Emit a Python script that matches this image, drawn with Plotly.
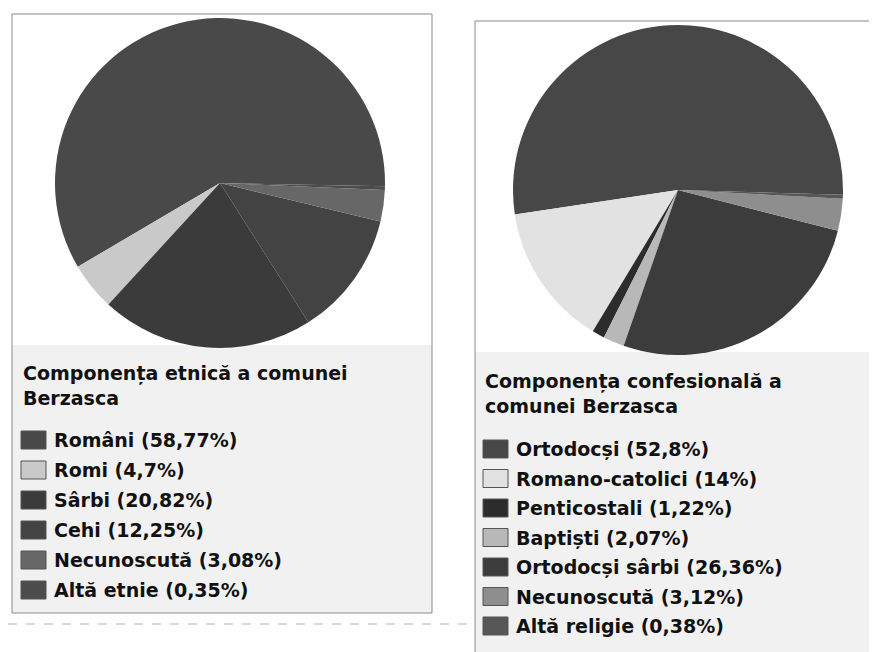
import plotly.graph_objects as go

# ---- data ----
etnie_labels = ["Români", "Romi", "Sârbi", "Cehi", "Necunoscută", "Altă etnie"]
etnie_values = [58.77, 4.7, 20.82, 12.25, 3.08, 0.35]
etnie_colors = ["#494949", "#c9c9c9", "#3b3b3b", "#434343", "#676767", "#4c4c4c"]
etnie_title = "Componența etnică a comunei<br>Berzasca"

relig_labels = ["Ortodocși", "Romano-catolici", "Penticostali", "Baptiști",
                "Ortodocși sârbi", "Necunoscută", "Altă religie"]
relig_values = [52.8, 14, 1.22, 2.07, 26.36, 3.12, 0.38]
relig_colors = ["#474747", "#e2e2e2", "#2c2c2c", "#b8b8b8", "#3c3c3c", "#8e8e8e", "#575757"]
relig_title = "Componența confesională a<br>comunei Berzasca"

# page body has an 8px margin: shrink the figure and shift coordinates
OFF = 8
W, H = 877 - OFF, 652 - OFF
FONT = "DejaVu Sans, Liberation Sans, Arial, sans-serif"
FS = 19


def px(x):
    return (x - OFF) / W


def py(y):
    return 1 - (y - OFF) / H


def fmt(v):
    return f"{v:g}".replace(".", ",")


fig = go.Figure()

R = 165
# left pie
cx, cy = 220, 183
fig.add_trace(go.Pie(
    labels=etnie_labels, values=etnie_values, sort=False,
    direction="counterclockwise", rotation=-120.5,
    marker=dict(colors=etnie_colors, line=dict(width=0)),
    textinfo="none", hoverinfo="label+percent", showlegend=False,
    domain=dict(x=[px(cx - R), px(cx + R)], y=[py(cy + R), py(cy - R)]),
))
# right pie
cx2, cy2 = 678, 190
fig.add_trace(go.Pie(
    labels=relig_labels, values=relig_values, sort=False,
    direction="counterclockwise", rotation=-98.5,
    marker=dict(colors=relig_colors, line=dict(width=0)),
    textinfo="none", hoverinfo="label+percent", showlegend=False,
    domain=dict(x=[px(cx2 - R), px(cx2 + R)], y=[py(cy2 + R), py(cy2 - R)]),
))

shapes = []
annotations = []

# boxes & legend backgrounds
shapes.append(dict(type="rect", xref="paper", yref="paper",
                   x0=px(12), x1=px(432), y0=py(613), y1=py(345),
                   fillcolor="#f1f1f1", line=dict(width=0), layer="below"))
shapes.append(dict(type="rect", xref="paper", yref="paper",
                   x0=px(12), x1=px(432), y0=py(613), y1=py(14),
                   fillcolor="rgba(0,0,0,0)", line=dict(color="#8a8a8a", width=1)))
shapes.append(dict(type="rect", xref="paper", yref="paper",
                   x0=px(475), x1=px(877), y0=py(652), y1=py(352),
                   fillcolor="#f1f1f1", line=dict(width=0), layer="below"))
shapes.append(dict(type="line", xref="paper", yref="paper",
                   x0=px(475), x1=px(475), y0=py(652), y1=py(21),
                   line=dict(color="#8a8a8a", width=1)))
shapes.append(dict(type="line", xref="paper", yref="paper",
                   x0=px(475), x1=px(877), y0=py(21), y1=py(21),
                   line=dict(color="#8a8a8a", width=1)))
shapes.append(dict(type="line", xref="paper", yref="paper",
                   x0=px(8), x1=px(474), y0=py(624), y1=py(624),
                   line=dict(color="#b0b0b0", width=1, dash="dash")))


def legend(title, labels, values, colors, x0, title_y, item_y0, step):
    annotations.append(dict(
        xref="paper", yref="paper", x=px(x0), y=py(title_y),
        xanchor="left", yanchor="top", align="left", showarrow=False,
        text=f"<b>{title}</b>", font=dict(family=FONT, size=FS, color="#111111"),
    ))
    for i, (lab, val, col) in enumerate(zip(labels, values, colors)):
        yc = item_y0 + i * step
        shapes.append(dict(type="rect", xref="paper", yref="paper",
                           x0=px(x0), x1=px(x0 + 25), y0=py(yc + 9), y1=py(yc - 9),
                           fillcolor=col, line=dict(color="#555555", width=1)))
        annotations.append(dict(
            xref="paper", yref="paper", x=px(x0 + 31), y=py(yc),
            xanchor="left", yanchor="middle", showarrow=False,
            text=f"<b>{lab} ({fmt(val)}%)</b>",
            font=dict(family=FONT, size=FS, color="#111111"),
        ))


legend(etnie_title, etnie_labels, etnie_values, etnie_colors, 21, 360, 440, 30)
legend(relig_title, relig_labels, relig_values, relig_colors, 483, 368, 449, 29.5)

fig.update_layout(
    width=W, height=H, margin=dict(l=0, r=0, t=0, b=0),
    paper_bgcolor="white", plot_bgcolor="white",
    shapes=shapes, annotations=annotations,
)

fig.write_html("out.html")
